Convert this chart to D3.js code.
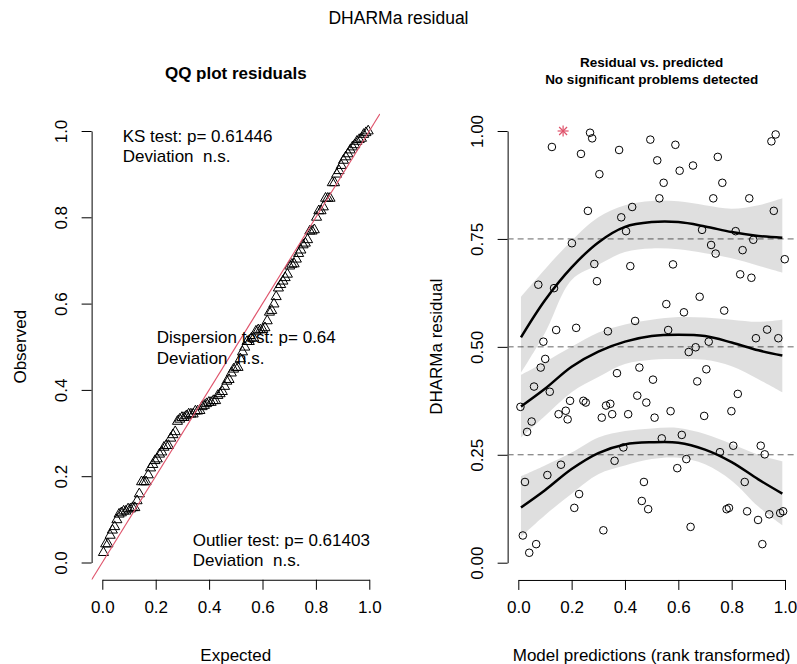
<!DOCTYPE html>
<html>
<head>
<meta charset="utf-8">
<script src="https://cdn.jsdelivr.net/npm/d3@7"></script>
<style>
  html, body { margin: 0; padding: 0; background: #fff; }
  svg text { font-family: "Liberation Sans", Arial, Helvetica, sans-serif; fill: #000; white-space: pre; }
</style>
</head>
<body>
<svg id="chart" width="797" height="664"></svg>
<script>
// Scaled residuals and rank-transformed model predictions
const predRank = [0.126,0.269,0.277,0.235,0.378,0.495,0.521,0.304,0.261,0.427,0.386,0.404,0.201,0.285,0.420,
  0.589,0.605,0.655,0.748,0.545,0.765,0.529,0.731,0.866,0.965,0.949,0.958,0.689,0.815,0.881,0.723,0.740,0.841,
  0.999,0.580,0.832,0.874,0.680,0.555,0.621,0.772,0.562,0.714,0.665,0.639,0.891,0.933,0.975,0.505,0.705,0.671,
  0.823,0.480,0.511,0.571,0.697,0.799,0.075,0.134,0.295,0.142,0.217,0.336,0.438,0.094,0.101,0.084,0.059,0.118,
  0.008,0.370,0.454,0.194,0.244,0.253,0.151,0.178,0.185,0.329,0.345,0.313,0.352,0.412,0.446,0.050,0.033,0.394,
  0.361,0.160,0.109,0.025,0.228,0.210,0.471,0.463,0.487,0.017,0.067,0.041,0.319,0.538,0.613,0.630,0.596,0.756,
  0.806,0.909,0.924,0.849,0.781,0.790,0.858,0.899,0.941,0.982,0.993,0.646,0.915];
const residual = [0.963,0.996,0.983,0.947,0.956,0.980,0.932,0.900,0.815,0.824,0.800,0.768,0.740,0.692,0.687,
  0.968,0.908,0.920,0.940,0.880,0.880,0.844,0.844,0.844,0.992,0.976,0.815,0.771,0.768,0.748,0.736,0.716,0.724,
  0.703,0.691,0.668,0.660,0.616,0.599,0.580,0.584,0.539,0.512,0.499,0.488,0.520,0.540,0.520,0.424,0.448,0.420,
  0.391,0.371,0.336,0.351,0.340,0.351,0.644,0.636,0.652,0.539,0.544,0.536,0.560,0.512,0.472,0.452,0.408,0.396,
  0.361,0.439,0.452,0.375,0.375,0.371,0.344,0.352,0.332,0.364,0.368,0.336,0.344,0.344,0.387,0.327,0.303,0.267,
  0.236,0.227,0.203,0.187,0.159,0.127,0.187,0.143,0.124,0.063,0.043,0.023,0.075,0.288,0.296,0.240,0.219,0.256,
  0.271,0.271,0.251,0.187,0.124,0.127,0.119,0.099,0.112,0.115,0.119,0.083,0.043];
// Residuals flagged as outliers
const outlierRank = [0.168];
const outlierResid = [1.0];

// Quantile regression fits (0.25, 0.5, 0.75) with confidence bands
const qGrid  = [0.01, 0.1, 0.2, 0.3, 0.4, 0.5, 0.6, 0.7, 0.8, 0.9, 0.99];
const q25    = [0.128,0.168,0.217,0.254,0.274,0.279,0.278,0.262,0.233,0.193,0.160];
const q25Lo  = [0.060,0.110,0.160,0.205,0.225,0.240,0.243,0.228,0.190,0.130,0.087];
const q25Hi  = [0.200,0.225,0.255,0.290,0.305,0.311,0.312,0.298,0.275,0.250,0.235];
const q50    = [0.362,0.403,0.454,0.489,0.512,0.525,0.528,0.525,0.510,0.492,0.480];
const q50Lo  = [0.290,0.340,0.395,0.430,0.460,0.470,0.472,0.470,0.455,0.425,0.395];
const q50Hi  = [0.435,0.465,0.500,0.533,0.552,0.563,0.569,0.568,0.563,0.558,0.563];
const q75    = [0.522,0.608,0.684,0.742,0.778,0.789,0.789,0.779,0.766,0.757,0.753];
const q75Lo  = [0.440,0.532,0.655,0.690,0.720,0.728,0.726,0.717,0.705,0.688,0.672];
const q75Hi  = [0.616,0.680,0.746,0.800,0.828,0.838,0.837,0.828,0.820,0.828,0.844];
const quantileLevels = [0.25, 0.5, 0.75];

// Axis ticks
const qqTicks = [0, 0.2, 0.4, 0.6, 0.8, 1.0];
const resYTicks = [0, 0.25, 0.5, 0.75, 1.0];
const resXTicks = [0, 0.2, 0.4, 0.6, 0.8, 1.0];

// Test annotations
const ksText = ["KS test: p= 0.61446", "Deviation  n.s."];
const dispText = ["Dispersion test: p= 0.64", "Deviation  n.s."];
const outText = ["Outlier test: p= 0.61403", "Deviation  n.s."];

const RED = "#DF536B";
const svg = d3.select("#chart");
svg.append("rect").attr("width", 797).attr("height", 664).attr("fill", "#fff");

// main title
svg.append("text").attr("x", 398.5).attr("y", 24).attr("text-anchor", "middle")
  .style("font-size", "17.5px").text("DHARMa residual");

function yAxisR(g, scale, ticks, fmt) {
  g.call(d3.axisLeft(scale).tickValues(ticks).tickSize(10).tickSizeOuter(0).tickFormat(fmt));
  g.select(".domain").attr("stroke", "#000");
  g.selectAll(".tick line").attr("stroke", "#000");
  g.selectAll(".tick text").attr("transform", "rotate(-90)").attr("x", 0).attr("y", -25)
    .attr("dy", 0).attr("text-anchor", "middle").style("font-size", "17px").attr("fill", "#000");
}
function xAxisR(g, scale, ticks, fmt) {
  g.call(d3.axisBottom(scale).tickValues(ticks).tickSize(10).tickSizeOuter(0).tickPadding(11).tickFormat(fmt));
  g.select(".domain").attr("stroke", "#000");
  g.selectAll(".tick line").attr("stroke", "#000");
  g.selectAll(".tick text").style("font-size", "17px").attr("fill", "#000");
}

// ---------- QQ plot ----------
const xL = d3.scaleLinear().domain([0, 1]).range([102.3, 369.3]);
const yL = d3.scaleLinear().domain([0, 1]).range([562.5, 131]);
const allRes = residual.concat(outlierResid).slice().sort(d3.ascending);
const nRes = allRes.length;
const qq = allRes.map((v, i) => ({ e: (i + 0.5) / nRes, o: v }));

const left = svg.append("g");
svg.append("clipPath").attr("id", "clipL").append("rect")
  .attr("x", xL(-0.04)).attr("y", yL(1.04)).attr("width", xL(1.04) - xL(-0.04)).attr("height", yL(-0.04) - yL(1.04));

left.append("text").attr("x", (xL(-0.04) + xL(1.04)) / 2).attr("y", 79).attr("text-anchor", "middle")
  .style("font-size", "17px").style("font-weight", "bold").text("QQ plot residuals");

left.append("g").attr("transform", `translate(0,${yL(-0.04)})`).call(g => xAxisR(g, xL, qqTicks, d3.format(".1f")));
left.append("g").attr("transform", `translate(${xL(-0.04)},0)`).call(g => yAxisR(g, yL, qqTicks, d3.format(".1f")));

left.append("text").attr("x", (xL(-0.04) + xL(1.04)) / 2).attr("y", 661).attr("text-anchor", "middle")
  .style("font-size", "17px").text("Expected");
left.append("text").attr("transform", `translate(26,${(yL(-0.04) + yL(1.04)) / 2}) rotate(-90)`)
  .attr("text-anchor", "middle").style("font-size", "17px").text("Observed");

const triangle = d3.symbol().type(d3.symbolTriangle).size(44);
left.append("g").selectAll("path").data(qq).join("path")
  .attr("d", triangle).attr("transform", d => `translate(${xL(d.e)},${yL(d.o)})`)
  .attr("fill", "none").attr("stroke", "#000").attr("stroke-width", 1);

left.append("line").attr("clip-path", "url(#clipL)")
  .attr("x1", xL(-0.1)).attr("y1", yL(-0.1)).attr("x2", xL(1.1)).attr("y2", yL(1.1))
  .attr("stroke", RED).attr("stroke-width", 1.1);

function annot(lines, x, y) {
  lines.forEach((t, i) => left.append("text").attr("x", x).attr("y", y + i * 20.5)
    .attr("xml:space", "preserve").style("font-size", "17px").text(t));
}
annot(ksText, 122.7, 141.5);
annot(dispText, 156.7, 343);
annot(outText, 192.7, 545.5);

// ---------- Residual vs. predicted ----------
const xR = d3.scaleLinear().domain([0, 1]).range([518.3, 785]);
const yR = d3.scaleLinear().domain([0, 1]).range([562.7, 131]);
const right = svg.append("g");
svg.append("clipPath").attr("id", "clipR").append("rect")
  .attr("x", xR(-0.04)).attr("y", yR(1.04)).attr("width", xR(1.04) - xR(-0.04)).attr("height", yR(-0.04) - yR(1.04));

const cx = (xR(-0.04) + xR(1.04)) / 2;
right.append("text").attr("x", cx).attr("y", 67).attr("text-anchor", "middle")
  .style("font-size", "13.5px").style("font-weight", "bold").text("Residual vs. predicted");
right.append("text").attr("x", cx).attr("y", 84).attr("text-anchor", "middle")
  .style("font-size", "13.5px").style("font-weight", "bold").text("No significant problems detected");

right.append("g").attr("transform", `translate(0,${yR(-0.04)})`).call(g => xAxisR(g, xR, resXTicks, d3.format(".1f")));
right.append("g").attr("transform", `translate(${xR(-0.04)},0)`).call(g => yAxisR(g, yR, resYTicks, d3.format(".2f")));

right.append("text").attr("x", cx).attr("y", 661).attr("text-anchor", "middle")
  .style("font-size", "17px").text("Model predictions (rank transformed)");
right.append("text").attr("transform", `translate(442,${(yR(-0.04) + yR(1.04)) / 2}) rotate(-90)`)
  .attr("text-anchor", "middle").style("font-size", "17px").text("DHARMa residual");

// reference lines at the tested quantiles
right.append("g").selectAll("line").data(quantileLevels).join("line")
  .attr("x1", xR(-0.04)).attr("x2", 797).attr("y1", d => yR(d)).attr("y2", d => yR(d))
  .attr("stroke", "#666").attr("stroke-width", 1).attr("stroke-dasharray", "6,4");

// observations
right.append("g").selectAll("circle").data(d3.range(predRank.length)).join("circle")
  .attr("cx", i => xR(predRank[i])).attr("cy", i => yR(residual[i])).attr("r", 3.8)
  .attr("fill", "none").attr("stroke", "#000").attr("stroke-width", 1);

// outliers as red asterisks
const star = right.append("g").selectAll("g").data(d3.range(outlierRank.length)).join("g")
  .attr("transform", i => `translate(${xR(outlierRank[i])},${yR(outlierResid[i])})`)
  .attr("stroke", RED).attr("stroke-width", 1.2);
const s = 5.5;
[[-s,0,s,0],[0,-s,0,s],[-s*0.72,-s*0.72,s*0.72,s*0.72],[-s*0.72,s*0.72,s*0.72,-s*0.72]].forEach(c =>
  star.append("line").attr("x1", c[0]).attr("y1", c[1]).attr("x2", c[2]).attr("y2", c[3]));

// quantile bands and fitted curves
const fits = [
  { mid: q25, lo: q25Lo, hi: q25Hi },
  { mid: q50, lo: q50Lo, hi: q50Hi },
  { mid: q75, lo: q75Lo, hi: q75Hi }
];
const area = d3.area().x(d => xR(d.x)).y0(d => yR(d.lo)).y1(d => yR(d.hi)).curve(d3.curveCatmullRom);
const line = d3.line().x(d => xR(d.x)).y(d => yR(d.y)).curve(d3.curveCatmullRom);
const bandG = right.append("g").attr("clip-path", "url(#clipR)");
fits.forEach(f => {
  const pts = qGrid.map((x, i) => ({ x, lo: f.lo[i], hi: f.hi[i] }));
  bandG.append("path").attr("d", area(pts)).attr("fill", "rgba(0,0,0,0.125)").attr("stroke", "none");
});
fits.forEach(f => {
  const pts = qGrid.map((x, i) => ({ x, y: f.mid[i] }));
  bandG.append("path").attr("d", line(pts)).attr("fill", "none").attr("stroke", "#000").attr("stroke-width", 2.5);
});
</script>
</body>
</html>
